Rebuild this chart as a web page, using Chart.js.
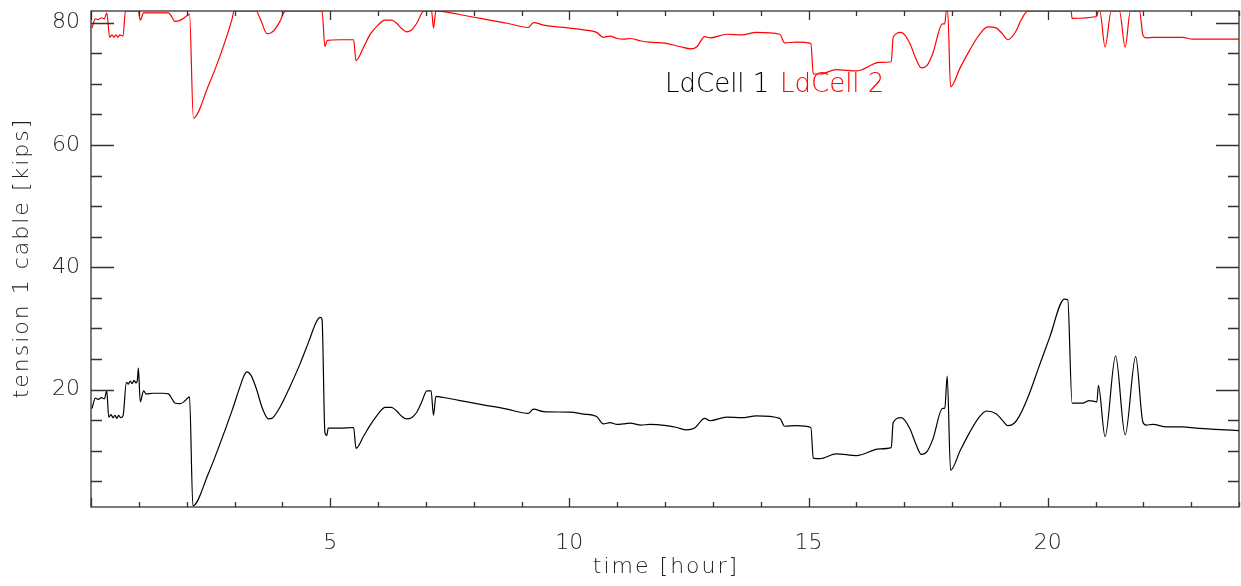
<!DOCTYPE html>
<html>
<head>
<meta charset="utf-8">
<script src="https://cdn.jsdelivr.net/npm/chart.js@4/dist/chart.umd.min.js"></script>
<style>
  html, body { margin: 0; padding: 0; background: #fff; }
</style>
</head>
<body>
<canvas id="chart" width="1241" height="586"></canvas>
<script>
// load cell 1 (black)
const times1 = [0.02, 0.09, 0.15, 0.22, 0.28, 0.33, 0.37, 0.42, 0.46, 0.50, 0.54, 0.58, 0.62, 0.67,
  0.74, 0.78, 0.82, 0.86, 0.90, 0.94, 0.97, 0.99, 1.03, 1.10, 1.15, 1.30, 1.50, 1.62, 1.70, 1.75, 1.87,
  1.97, 2.06, 2.13, 2.45, 2.70, 2.95, 3.12, 3.20, 3.26, 3.34, 3.45, 3.58, 3.71, 3.80, 3.95, 4.15, 4.37,
  4.55, 4.72, 4.79, 4.83, 4.89, 4.93, 4.96, 5.20, 5.49, 5.54, 5.70, 5.83, 6.00, 6.15, 6.28, 6.39, 6.50,
  6.60, 6.70, 6.81, 6.92, 7.02, 7.11, 7.16, 7.21, 7.37, 7.92, 8.20, 8.70, 9.14, 9.25, 9.46, 10.01, 10.30,
  10.57, 10.71, 10.85, 11.00, 11.13, 11.27, 11.50, 11.68, 12.03, 12.25, 12.45, 12.62, 12.83, 12.94, 13.29,
  13.60, 13.91, 14.40, 14.50, 14.75, 15.05, 15.10, 15.24, 15.58, 16.00, 16.49, 16.73, 16.77, 16.94, 17.12,
  17.24, 17.36, 17.48, 17.60, 17.80, 17.85, 17.90, 17.97, 18.17, 18.37, 18.55, 18.72, 18.93, 19.05, 19.17,
  19.30, 19.41, 19.60, 19.83, 20.04, 20.35, 20.42, 20.51, 20.74, 20.87, 21.03, 21.06, 21.20, 21.42, 21.62,
  21.84, 21.99, 22.06, 22.20, 22.48, 22.82, 23.10, 23.50, 24.00];
const load1 = [16.9, 18.6, 18.4, 18.7, 18.5, 19.8, 15.5, 15.9, 15.4, 15.8, 15.3, 15.8, 15.4, 15.7,
  21.2, 20.9, 21.4, 21.0, 21.5, 21.1, 21.6, 23.5, 18.0, 19.8, 19.3, 19.4, 19.4, 19.3, 18.4, 17.8, 17.7,
  18.2, 18.8, 1.0, 6.2, 11.2, 16.6, 20.6, 22.3, 22.9, 22.4, 20.3, 17.0, 15.2, 15.4, 17.1, 20.3, 24.2,
  27.8, 31.2, 31.8, 31.5, 13.0, 12.5, 13.7, 13.7, 13.8, 10.4, 12.4, 14.1, 16.0, 17.1, 17.1, 16.5, 15.6,
  15.2, 15.4, 16.3, 18.1, 19.8, 19.8, 15.8, 18.9, 18.7, 17.9, 17.5, 16.8, 16.1, 16.8, 16.4, 16.3, 16.0,
  15.6, 14.4, 14.6, 14.3, 14.4, 14.5, 14.2, 14.3, 14.1, 13.8, 13.4, 13.7, 15.3, 14.9, 15.5,
  15.4, 15.7, 15.3, 14.0, 14.1, 13.8, 8.8, 8.7, 9.5, 9.2, 10.3, 10.5, 14.6, 15.4, 13.6,
  11.2, 9.4, 9.9, 11.9, 16.9, 17.0, 22.2, 6.8, 10.0, 13.0, 15.3, 16.5, 16.0, 15.0, 14.1,
  14.5, 15.7, 19.0, 24.0, 28.5, 34.8, 34.7, 17.8, 17.8, 18.2, 18.0, 20.7, 12.3, 25.5, 12.6,
  25.4, 14.7, 14.2, 14.3, 13.9, 13.9, 13.7, 13.5, 13.3];

// load cell 2 (red)
const times2 = [0.02, 0.09, 0.15, 0.22, 0.28, 0.33, 0.39, 0.44, 0.48, 0.52, 0.56, 0.60, 0.67, 0.72,
  0.99, 1.03, 1.10, 1.62, 1.70, 1.75, 1.87, 1.97, 2.06, 2.14, 2.45, 2.70, 2.95, 2.99, 3.45, 3.55, 3.68,
  3.76, 3.95, 4.02, 4.09, 4.83, 4.89, 4.94, 5.20, 5.49, 5.54, 5.70, 5.83, 6.00, 6.15, 6.28, 6.39, 6.50,
  6.60, 6.70, 6.81, 6.96, 7.12, 7.16, 7.21, 7.37, 7.92, 8.20, 8.70, 9.14, 9.25, 9.46, 10.01, 10.30, 10.57,
  10.71, 10.85, 11.00, 11.13, 11.27, 11.50, 11.68, 12.03, 12.30, 12.55, 12.66, 12.83, 12.94, 13.29, 13.60,
  13.91, 14.40, 14.50, 14.75, 15.05, 15.10, 15.24, 15.58, 16.00, 16.49, 16.73, 16.77, 16.94, 17.12, 17.24,
  17.36, 17.48, 17.60, 17.80, 17.85, 17.88, 17.91, 17.97, 18.17, 18.37, 18.55, 18.75, 18.93, 19.05, 19.17,
  19.33, 19.45, 19.59, 20.49, 20.51, 21.02, 21.06, 21.09, 21.20, 21.33, 21.50, 21.62, 21.73, 21.92, 21.99,
  22.06, 22.20, 22.82, 23.03, 24.00];
const load2 = [79.1, 80.6, 80.5, 80.8, 80.6, 81.6, 77.6, 78.0, 77.6, 78.0, 77.6, 78.0, 77.8, 81.9,
  81.9, 80.4, 81.6, 81.6, 80.8, 80.2, 80.4, 80.9, 81.4, 64.4, 69.6, 74.6, 80.6, 81.9, 81.9, 80.4, 78.2,
  78.3, 80.2, 81.5, 81.9, 81.9, 76.1, 77.1, 77.2, 77.2, 73.8, 76.0, 78.0, 79.6, 80.4, 80.4, 79.9, 79.0,
  78.5, 78.8, 79.9, 81.9, 81.9, 79.1, 81.9, 81.8, 81.0, 80.6, 79.9, 79.2, 80.0, 79.6, 79.1, 78.8, 78.4,
  77.6, 77.8, 77.4, 77.3, 77.4, 77.0, 76.8, 76.6, 76.1, 75.7, 76.0, 77.7, 77.5, 78.1, 78.0,
  78.4, 78.1, 76.7, 76.8, 76.6, 71.6, 71.6, 72.3, 72.1, 73.5, 73.6, 77.6, 78.4, 76.6, 74.2,
  72.6, 73.0, 75.0, 79.8, 79.8, 81.9, 81.9, 69.5, 72.6, 75.5, 77.8, 79.3, 79.1, 78.2, 77.2,
  78.5, 80.5, 81.9, 81.9, 80.7, 81.0, 81.9, 81.9, 76.0, 81.9, 81.9, 76.0, 81.9, 81.9, 78.0,
  77.5, 77.6, 77.6, 77.3, 77.3];

const seriesNames = ['LdCell 1', 'LdCell 2'];
const seriesColors = ['#000000', '#ff0000'];
const xTitle = 'time [hour]';
const yTitle = 'tension 1 cable [kips]';
const xMin = 0, xMax = 24;
const yMin = 0.8, yMax = 81.9;
const xLabelTicks = [5, 10, 15, 20];
const yLabelTicks = [20, 40, 60, 80];

const FONT = '"DejaVu Sans", sans-serif';
const TEXT = '#222';

function toPoints(xs, ys) {
  return xs.map((x, i) => ({ x: x, y: ys[i] }));
}

// IDL-style box with inward ticks on all four sides, axis titles and the in-plot legend
const frame = {
  id: 'frame',
  afterDraw(chart) {
    const ctx = chart.ctx;
    const a = chart.chartArea;
    const xs = chart.scales.x, ys = chart.scales.y;
    ctx.save();
    ctx.strokeStyle = '#333';
    ctx.lineWidth = 1.3;
    ctx.strokeRect(a.left, a.top, a.right - a.left, a.bottom - a.top);
    ctx.beginPath();
    xs.ticks.forEach(t => {
      const px = Math.round(xs.getPixelForValue(t.value)) + 0.5;
      const len = t.value % 5 === 0 ? 9 : 5;
      ctx.moveTo(px, a.bottom); ctx.lineTo(px, a.bottom - len);
      ctx.moveTo(px, a.top); ctx.lineTo(px, a.top + len);
    });
    ys.ticks.forEach(t => {
      const py = Math.round(ys.getPixelForValue(t.value)) + 0.5;
      const len = t.value % 20 === 0 ? 23 : 11;
      ctx.moveTo(a.left, py); ctx.lineTo(a.left + len, py);
      ctx.moveTo(a.right, py); ctx.lineTo(a.right - len, py);
    });
    ctx.stroke();

    // axis titles (wider letter spacing like the original plot font)
    ctx.fillStyle = TEXT;
    ctx.font = '200 22px ' + FONT;
    ctx.textAlign = 'center';
    ctx.textBaseline = 'middle';
    ctx.letterSpacing = '2px';
    ctx.fillText(xTitle, (a.left + a.right) / 2 + 1, 567);
    ctx.save();
    ctx.translate(22, (a.top + a.bottom) / 2);
    ctx.rotate(-Math.PI / 2);
    ctx.fillText(yTitle, 1, 0);
    ctx.restore();

    ctx.letterSpacing = '0px';
    ctx.textAlign = 'left';
    ctx.font = '200 26px ' + FONT;
    ctx.textBaseline = 'alphabetic';
    ctx.fillStyle = seriesColors[0];
    ctx.fillText(seriesNames[0], 665, 92);
    ctx.fillStyle = seriesColors[1];
    ctx.fillText(seriesNames[1], 780, 92);
    ctx.restore();
  }
};

const ctx = document.getElementById('chart').getContext('2d');
new Chart(ctx, {
  type: 'line',
  data: {
    datasets: [{
      label: seriesNames[0],
      data: toPoints(times1, load1),
      borderColor: seriesColors[0],
      borderWidth: 1.2,
      pointRadius: 0,
      cubicInterpolationMode: 'monotone'
    }, {
      label: seriesNames[1],
      data: toPoints(times2, load2),
      borderColor: seriesColors[1],
      borderWidth: 1.2,
      pointRadius: 0,
      cubicInterpolationMode: 'monotone'
    }]
  },
  options: {
    responsive: false,
    animation: false,
    layout: { padding: { top: 11, right: 2, left: 0, bottom: 0 } },
    plugins: {
      legend: { display: false },
      tooltip: { enabled: false }
    },
    scales: {
      x: {
        type: 'linear',
        min: xMin,
        max: xMax,
        afterFit(s) { s.height = 79; s.paddingLeft = 0; s.paddingRight = 0; },
        grid: { display: false, drawTicks: false },
        border: { display: false },
        ticks: {
          stepSize: 1,
          autoSkip: false,
          maxRotation: 0,
          padding: 23,
          color: TEXT,
          font: { family: FONT, size: 22, weight: 200 },
          callback: v => xLabelTicks.includes(v) ? String(v) : ''
        }
      },
      y: {
        min: yMin,
        max: yMax,
        afterFit(s) { s.width = 91; s.paddingTop = 0; s.paddingBottom = 0; },
        grid: { display: false, drawTicks: false },
        border: { display: false },
        ticks: {
          stepSize: 5,
          includeBounds: false,
          autoSkip: false,
          padding: 11,
          color: TEXT,
          font: { family: FONT, size: 22, weight: 200 },
          callback: v => yLabelTicks.includes(v) ? String(v) : ''
        }
      }
    }
  },
  plugins: [frame]
});
</script>
</body>
</html>
